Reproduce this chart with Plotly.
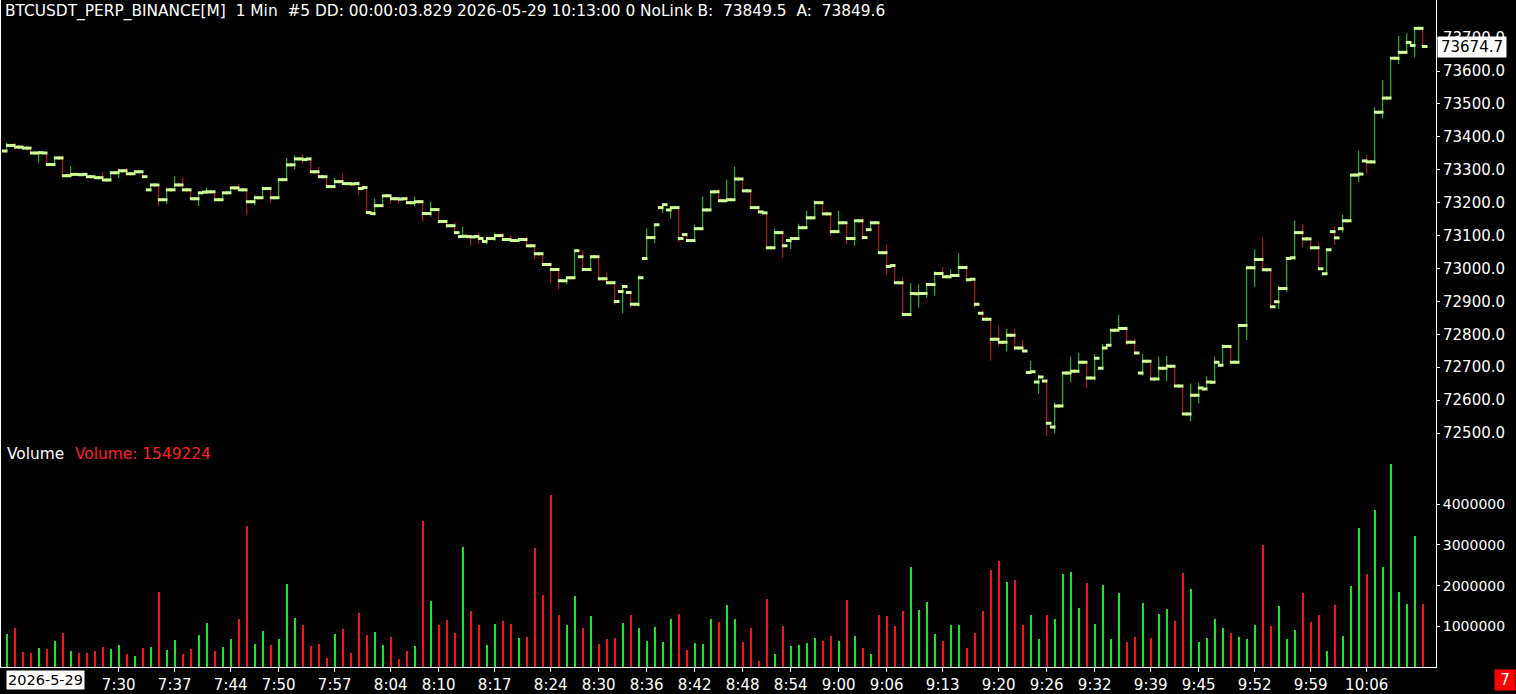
import pandas as pd
import plotly.graph_objects as go

# ---------------- data ----------------
start_time = "2026-05-29 07:16"

opens = [73357, 73374, 73369, 73366, 73351, 73351, 73316, 73336, 73282, 73286,
         73286, 73279, 73276, 73269, 73291, 73297, 73288, 73294, 73239, 73254,
         73209, 73239, 73254, 73239, 73212, 73232, 73233, 73209, 73230, 73245,
         73239, 73203, 73215, 73243, 73215, 73270, 73315, 73333, 73333, 73294,
         73279, 73249, 73264, 73258, 73258, 73246, 73167, 73191, 73221, 73212,
         73212, 73200, 73203, 73167, 73179, 73143, 73130, 73097, 73097, 73097,
         73082, 73091, 73100, 73088, 73085, 73088, 73069, 73045, 73012, 72997,
         72963, 72972, 73036, 72997, 73036, 72969, 72957, 72930, 72927, 72891,
         73030, 73094, 73185, 73178, 73185, 73103, 73085, 73121, 73178, 73233,
         73206, 73209, 73272, 73236, 73185, 73169, 73063, 73109, 73085, 73091,
         73124, 73154, 73200, 73166, 73112, 73139, 73091, 73145, 73118, 73139,
         73048, 73009, 72957, 72860, 72923, 72924, 72951, 72985, 72975, 72979,
         73003, 72967, 72864, 72846, 72785, 72776, 72797, 72758, 72684, 72655,
         72658, 72518, 72582, 72682, 72688, 72715, 72667, 72697, 72767, 72812,
         72818, 72776, 72682, 72718, 72664, 72697, 72703, 72643, 72558, 72615,
         72634, 72654, 72706, 72763, 72715, 72827, 73002, 73027, 72996, 72899,
         72939, 73033, 73109, 73090, 73063, 72984, 73112, 73121, 73145, 73284,
         73327, 73324, 73475, 73518, 73639, 73657, 73678, 73730]

highs = [73382, 73382, 73370, 73366, 73352, 73351, 73336, 73343, 73311, 73291,
         73286, 73279, 73293, 73291, 73303, 73306, 73294, 73294, 73254, 73254,
         73239, 73280, 73277, 73239, 73230, 73245, 73233, 73230, 73245, 73257,
         73239, 73222, 73249, 73243, 73270, 73336, 73344, 73347, 73333, 73309,
         73279, 73276, 73289, 73264, 73267, 73246, 73212, 73221, 73221, 73212,
         73220, 73218, 73203, 73203, 73179, 73149, 73140, 73127, 73103, 73109,
         73091, 73109, 73109, 73101, 73094, 73097, 73069, 73045, 73018, 73000,
         72972, 73054, 73055, 73036, 73036, 72988, 72957, 72945, 72927, 72979,
         73122, 73133, 73194, 73185, 73185, 73103, 73133, 73219, 73233, 73242,
         73270, 73310, 73272, 73236, 73191, 73169, 73121, 73109, 73091, 73136,
         73176, 73206, 73200, 73166, 73176, 73139, 73145, 73154, 73139, 73139,
         73073, 73009, 72973, 72955, 72952, 72957, 72991, 73005, 72998, 73046,
         73003, 72967, 72874, 72846, 72828, 72816, 72816, 72782, 72719, 72677,
         72658, 72594, 72682, 72731, 72744, 72715, 72740, 72770, 72812, 72859,
         72818, 72786, 72740, 72718, 72731, 72734, 72703, 72643, 72650, 72653,
         72671, 72731, 72769, 72763, 72827, 73009, 73058, 73094, 72996, 72948,
         73033, 73146, 73134, 73093, 73079, 73057, 73128, 73164, 73284, 73358,
         73345, 73490, 73573, 73639, 73707, 73715, 73733, 73730]

lows = [73357, 73363, 73365, 73349, 73321, 73316, 73316, 73282, 73282, 73284,
        73279, 73276, 73269, 73269, 73275, 73288, 73288, 73279, 73239, 73190,
        73196, 73239, 73239, 73212, 73190, 73230, 73209, 73209, 73230, 73239,
        73164, 73192, 73215, 73200, 73215, 73270, 73301, 73319, 73291, 73279,
        73249, 73249, 73258, 73257, 73223, 73168, 73160, 73191, 73197, 73197,
        73200, 73190, 73142, 73158, 73143, 73124, 73109, 73093, 73069, 73075,
        73074, 73084, 73088, 73085, 73085, 73069, 73028, 73012, 72956, 72935,
        72952, 72972, 72997, 72997, 72962, 72957, 72890, 72864, 72881, 72885,
        73030, 73077, 73168, 73152, 73081, 73085, 73085, 73121, 73178, 73206,
        73206, 73209, 73236, 73185, 73172, 73063, 73063, 73032, 73059, 73091,
        73124, 73154, 73166, 73099, 73112, 73073, 73068, 73094, 73118, 73048,
        72981, 72957, 72860, 72860, 72881, 72911, 72917, 72975, 72969, 72979,
        72966, 72882, 72840, 72720, 72763, 72748, 72752, 72749, 72684, 72619,
        72490, 72499, 72582, 72654, 72688, 72636, 72660, 72697, 72767, 72812,
        72767, 72743, 72675, 72664, 72664, 72657, 72643, 72558, 72535, 72590,
        72634, 72654, 72706, 72715, 72715, 72783, 72944, 72996, 72884, 72877,
        72929, 73027, 73065, 73063, 72999, 72984, 73072, 73109, 73145, 73262,
        73289, 73318, 73456, 73518, 73621, 73657, 73642, 73672]

closes = [73374, 73369, 73366, 73351, 73352, 73316, 73336, 73282, 73286, 73285,
          73279, 73276, 73269, 73291, 73297, 73288, 73294, 73279, 73254, 73209,
          73239, 73254, 73239, 73212, 73230, 73233, 73209, 73230, 73245, 73239,
          73203, 73215, 73243, 73215, 73270, 73315, 73333, 73331, 73294, 73279,
          73249, 73264, 73258, 73257, 73243, 73170, 73191, 73221, 73212, 73211,
          73200, 73203, 73167, 73179, 73143, 73130, 73109, 73098, 73096, 73091,
          73091, 73100, 73088, 73085, 73088, 73069, 73045, 73012, 72997, 72963,
          72972, 73054, 72997, 73036, 72969, 72957, 72900, 72945, 72891, 72972,
          73094, 73133, 73194, 73185, 73091, 73085, 73121, 73178, 73233, 73206,
          73209, 73272, 73236, 73185, 73172, 73063, 73109, 73069, 73091, 73124,
          73154, 73200, 73166, 73112, 73139, 73091, 73145, 73094, 73139, 73048,
          73006, 72957, 72860, 72924, 72924, 72951, 72985, 72975, 72979, 73003,
          72966, 72891, 72846, 72785, 72776, 72797, 72758, 72749, 72686, 72670,
          72530, 72582, 72682, 72688, 72715, 72667, 72727, 72758, 72812, 72818,
          72776, 72743, 72718, 72664, 72697, 72703, 72643, 72558, 72615, 72637,
          72655, 72715, 72763, 72715, 72827, 73002, 73027, 72996, 72884, 72939,
          73030, 73109, 73090, 73063, 72999, 73057, 73093, 73145, 73284, 73287,
          73324, 73475, 73518, 73639, 73657, 73687, 73730, 73674.7]

volumes = [810000, 960000, 370000, 340000, 470000, 440000, 640000, 830000, 390000, 340000,
           340000, 390000, 490000, 440000, 540000, 320000, 270000, 470000, 490000, 1840000,
           420000, 660000, 320000, 440000, 780000, 1080000, 390000, 490000, 690000, 1180000,
           3460000, 560000, 880000, 540000, 690000, 2030000, 1200000, 1030000, 510000, 560000,
           220000, 810000, 930000, 340000, 1320000, 780000, 860000, 540000, 740000, 200000,
           390000, 510000, 3600000, 1620000, 1030000, 1150000, 830000, 2940000, 1370000, 1030000,
           540000, 1050000, 1130000, 1050000, 710000, 740000, 2920000, 1760000, 4220000, 1270000,
           1030000, 1740000, 960000, 1250000, 560000, 690000, 710000, 1080000, 1270000, 960000,
           640000, 980000, 610000, 1180000, 1300000, 420000, 590000, 560000, 1180000, 1100000,
           1520000, 1180000, 610000, 960000, 150000, 1670000, 320000, 1000000, 510000, 540000,
           590000, 710000, 640000, 760000, 640000, 1640000, 760000, 470000, 320000, 1270000,
           1250000, 1000000, 1370000, 2450000, 1400000, 1590000, 810000, 640000, 1030000, 1030000,
           470000, 830000, 1370000, 2380000, 2600000, 2080000, 2130000, 1030000, 1270000, 690000,
           1270000, 1180000, 2280000, 2330000, 1450000, 2060000, 1050000, 2010000, 690000, 1810000,
           610000, 740000, 1570000, 710000, 1300000, 1420000, 1130000, 2300000, 1910000, 610000,
           710000, 1180000, 960000, 830000, 740000, 690000, 1030000, 2990000, 1000000, 1500000,
           690000, 910000, 1810000, 1100000, 1270000, 390000, 1520000, 760000, 1990000, 3410000,
           2280000, 3850000, 2450000, 5000000, 1840000, 1540000, 3210000, 1549224]

time_tick_labels = ["7:30", "7:37", "7:44", "7:50", "7:57", "8:04", "8:10", "8:17",
                    "8:24", "8:30", "8:36", "8:42", "8:48", "8:54", "9:00", "9:06",
                    "9:13", "9:20", "9:26", "9:32", "9:39", "9:45", "9:52", "9:59",
                    "10:06"]
price_ticks = [72500, 72600, 72700, 72800, 72900, 73000, 73100, 73200, 73300,
               73400, 73500, 73600, 73700]
volume_ticks = [1000000, 2000000, 3000000, 4000000]

title_text = ("BTCUSDT_PERP_BINANCE[M]  1 Min  #5 DD: 00:00:03.829 2026-05-29 10:13:00 "
              "0 NoLink B:  73849.5  A:  73849.6")
date_label = "2026-5-29"
last_price_label = "73674.7"
volume_value_label = "Volume: 1549224"

# ---------------- styling ----------------
FONT = "DejaVu Sans"
WHITE = "#ffffff"
TICK_PALE = "#d0ff96"
STEM_UP = "#22dd22"
STEM_DN = "#e01010"
VOL_UP = "#11ee11"
VOL_DN = "#ff1010"

W, H = 1516, 694
M_L, M_R, M_T, M_B = 0, 80, 0, 25
plot_w = W - M_L - M_R
plot_h = H - M_T - M_B
PX = pd.Timedelta(seconds=7.5)          # one pixel on the time axis (8 px / minute)

times = pd.date_range(start_time, periods=len(opens), freq="min")
day = times[0].strftime("%Y-%m-%d")
tick_vals = [pd.Timestamp(f"{day} {lbl}") for lbl in time_tick_labels]

x_start = times[0] - PX * 6.7
x_end = x_start + PX * plot_w

# stems
up_x, up_y, dn_x, dn_y = [], [], [], []
for t, o, h, l, c in zip(times, opens, highs, lows, closes):
    if c >= o:
        up_x += [t, t, None]
        up_y += [l, h, None]
    else:
        dn_x += [t, t, None]
        dn_y += [l, h, None]

vol_colors = [VOL_UP if c >= o else VOL_DN for o, c in zip(opens, closes)]

fig = go.Figure()

fig.add_trace(go.Bar(x=times, y=volumes, marker=dict(color=vol_colors, line=dict(width=0)),
                     width=PX.total_seconds() * 1000 * 2, yaxis="y", xaxis="x",
                     hoverinfo="skip"))

fig.add_trace(go.Scatter(x=up_x, y=up_y, mode="lines", line=dict(color=STEM_UP, width=1),
                         yaxis="y2", hoverinfo="skip"))
fig.add_trace(go.Scatter(x=dn_x, y=dn_y, mode="lines", line=dict(color=STEM_DN, width=1),
                         yaxis="y2", hoverinfo="skip"))

fig.add_trace(go.Scatter(x=times - PX * 2, y=opens, mode="markers", yaxis="y2",
                         marker=dict(symbol="line-ew", size=4, line=dict(width=3, color=TICK_PALE)),
                         hoverinfo="skip"))
fig.add_trace(go.Scatter(x=times + PX * 2, y=closes, mode="markers", yaxis="y2",
                         marker=dict(symbol="line-ew", size=4, line=dict(width=3, color=TICK_PALE)),
                         hoverinfo="skip"))

split = 0.32
px_per_price = 0.33
price_top = 73700 + 38.3 / px_per_price
price_bottom = price_top - (1 - split) * plot_h / px_per_price
px_per_vol = 40.8 / 1e6
vol_top = split * plot_h / px_per_vol

axis_common = dict(showline=True, linecolor=WHITE, linewidth=1, ticks="outside",
                   tickcolor=WHITE, showgrid=False, zeroline=False)

fig.update_layout(
    width=W, height=H,
    margin=dict(l=M_L, r=M_R, t=M_T, b=M_B, pad=0),
    paper_bgcolor="#000000", plot_bgcolor="#000000",
    showlegend=False, hovermode=False, bargap=0,
    xaxis=dict(type="date", range=[x_start, x_end], domain=[0, 1], anchor="y",
               tickvals=tick_vals, ticktext=time_tick_labels, ticklen=4,
               tickfont=dict(family=FONT, size=15, color=WHITE), **axis_common),
    yaxis=dict(domain=[0, split], range=[0, vol_top], side="right", anchor="x",
               tickvals=volume_ticks, ticktext=[str(v) for v in volume_ticks],
               ticklen=3, tickfont=dict(family=FONT, size=14, color=WHITE), **axis_common),
    yaxis2=dict(domain=[split, 1], range=[price_bottom, price_top], side="right", anchor="x",
                tickvals=price_ticks, ticktext=[f"{v:.1f}" for v in price_ticks],
                ticklen=3, tickfont=dict(family=FONT, size=15, color=WHITE), **axis_common),
)

annotations = [
    dict(text=title_text, xref="paper", yref="paper", x=0, y=1, xanchor="left", yanchor="top",
         xshift=3, showarrow=False, font=dict(family=FONT, size=15.4, color=WHITE)),
    dict(text="Volume", xref="paper", yref="paper", x=5 / plot_w, y=(plot_h - 455) / plot_h,
         xanchor="left", yanchor="middle", showarrow=False,
         font=dict(family=FONT, size=15.4, color=WHITE)),
    dict(text=volume_value_label, xref="paper", yref="paper", x=73 / plot_w,
         y=(plot_h - 455) / plot_h, xanchor="left", yanchor="middle", showarrow=False,
         font=dict(family=FONT, size=15.4, color="#ff2020")),
    dict(text=date_label, xref="paper", yref="paper", x=6 / plot_w, y=(plot_h - 682) / plot_h,
         xanchor="left", yanchor="middle", showarrow=False, bgcolor=WHITE, borderpad=1,
         font=dict(family=FONT, size=14.5, color="#000000")),
    dict(text="7", xref="paper", yref="paper", x=1505 / plot_w, y=(plot_h - 682) / plot_h,
         xanchor="center", yanchor="middle", showarrow=False, bgcolor="#ff0000",
         width=18, height=18, font=dict(family=FONT, size=15, color=WHITE)),
    dict(text=last_price_label, xref="paper", yref="y2", x=1, y=closes[-1], xshift=1,
         xanchor="left", yanchor="middle", showarrow=False, bgcolor=WHITE, borderpad=1,
         width=66, font=dict(family=FONT, size=15, color="#000000")),
]
fig.update_layout(annotations=annotations)

fig.add_shape(type="line", xref="paper", yref="paper", x0=0.5 / plot_w, x1=0.5 / plot_w,
              y0=0, y1=1, line=dict(color=WHITE, width=1))

fig.write_html("out.html", config={"displayModeBar": False, "staticPlot": True})

# remove the browser's default page margin so the figure fills the window exactly
with open("out.html", "r", encoding="utf-8") as f:
    html = f.read()
html = html.replace("<body>", '<body style="margin:0;padding:0;background:#000000;">', 1)
html = html.replace("<head>", "<head><style>html,body{margin:0;padding:0;background:#000;overflow:hidden;}</style>", 1)
with open("out.html", "w", encoding="utf-8") as f:
    f.write(html)
